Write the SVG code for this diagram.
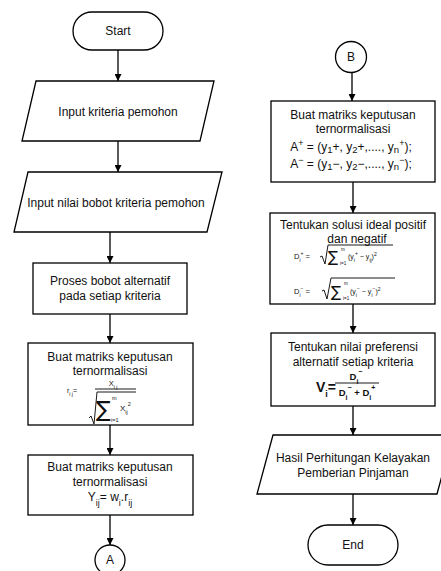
<svg xmlns="http://www.w3.org/2000/svg" width="441" height="571" viewBox="0 0 441 571">
<style>
.s{fill:#fff;stroke:#000;stroke-width:1.3}
.t{font-family:"Liberation Sans",Arial,sans-serif;font-size:12px;fill:#111;text-anchor:middle}
.f{font-family:"Liberation Sans",Arial,sans-serif;fill:#111}
.g{font-family:"DejaVu Sans",sans-serif;fill:#111}
.c{stroke:#000;stroke-width:1.3;fill:none}
.m{fill:none;stroke:#000;stroke-width:0.9}
</style>
<defs>
<marker id="ah" viewBox="0 0 8 8" refX="8" refY="4" markerWidth="7" markerHeight="7" markerUnits="userSpaceOnUse" orient="auto">
<path d="M0,0 L8,4 L0,8 Z" fill="#000"/>
</marker>
</defs>
<rect width="441" height="571" fill="#fff"/>
<g id="connectors">
<line class="c" x1="118" y1="50" x2="118" y2="81" marker-end="url(#ah)"/>
<line class="c" x1="118" y1="141" x2="118" y2="172" marker-end="url(#ah)"/>
<line class="c" x1="110" y1="232" x2="110" y2="263" marker-end="url(#ah)"/>
<line class="c" x1="110" y1="314" x2="110" y2="343" marker-end="url(#ah)"/>
<line class="c" x1="110" y1="425" x2="110" y2="455" marker-end="url(#ah)"/>
<line class="c" x1="110" y1="515" x2="110" y2="545" marker-end="url(#ah)"/>
<line class="c" x1="352" y1="72" x2="352" y2="101" marker-end="url(#ah)"/>
<line class="c" x1="353" y1="182" x2="353" y2="213" marker-end="url(#ah)"/>
<line class="c" x1="353" y1="304" x2="353" y2="333" marker-end="url(#ah)"/>
<line class="c" x1="353" y1="406" x2="353" y2="435" marker-end="url(#ah)"/>
<line class="c" x1="353" y1="494" x2="353" y2="525" marker-end="url(#ah)"/>
</g>
<g id="start">
<rect class="s" x="73" y="12" width="90" height="38" rx="19"/>
<text class="t" x="118" y="35">Start</text>
</g>
<g id="input1">
<polygon class="s" points="36,81 214,81 200,141 22,141"/>
<text class="t" x="118" y="116">Input kriteria pemohon</text>
</g>
<g id="input2">
<polygon class="s" points="28,172 222,172 207,232 14,232"/>
<text class="t" x="116" y="207">Input nilai bobot kriteria pemohon</text>
</g>
<g id="proses">
<rect class="s" x="33" y="263" width="154" height="51"/>
<text class="t" x="110" y="285">Proses bobot alternatif</text>
<text class="t" x="110" y="300">pada setiap kriteria</text>
</g>
<g id="normalisasi1">
<rect class="s" x="28" y="343" width="165" height="82"/>
<text class="t" x="110" y="361">Buat matriks keputusan</text>
<text class="t" x="110" y="375">ternormalisasi</text>
<text class="f" x="67" y="393" font-size="7">r<tspan baseline-shift="sub" font-size="5">i j</tspan>=</text>
<text class="f" x="113" y="386" font-size="7.5" text-anchor="middle">X<tspan baseline-shift="sub" font-size="5">i j</tspan></text>
<line class="m" x1="95" y1="389" x2="136" y2="389"/>
<path class="m" d="M89,418 L91,416 L94,424 L97,392 L136,392"/>
<text class="g" x="96" y="417" font-size="22">∑</text>
<text class="f" x="112" y="400" font-size="5.5">m</text>
<text class="f" x="111" y="422" font-size="5.5">i=1</text>
<text class="f" x="120" y="411" font-size="8">X<tspan baseline-shift="sub" font-size="5.5">ij</tspan><tspan dy="-5" font-size="5.5">2</tspan></text>
</g>
<g id="normalisasi2">
<rect class="s" x="28" y="455" width="165" height="60"/>
<text class="t" x="110" y="471">Buat matriks keputusan</text>
<text class="t" x="110" y="486">ternormalisasi</text>
<text class="t" x="110" y="501">Y<tspan baseline-shift="sub" font-size="9">ij</tspan>= w<tspan baseline-shift="sub" font-size="9">i</tspan>.r<tspan baseline-shift="sub" font-size="9">ij</tspan></text>
</g>
<g id="connA">
<circle class="s" cx="110" cy="560" r="15"/>
<text class="t" x="110" y="564">A</text>
</g>
<g id="connB">
<circle class="s" cx="351" cy="57" r="15.5"/>
<text class="t" x="351" y="61">B</text>
</g>
<g id="ideal">
<rect class="s" x="271" y="101" width="164" height="81"/>
<text class="t" x="353" y="119">Buat matriks keputusan</text>
<text class="t" x="353" y="133">ternormalisasi</text>
<text class="t" x="351" y="151">A<tspan baseline-shift="super" font-size="9">+</tspan> = (y<tspan baseline-shift="-2" font-size="9.5">1</tspan>+, y<tspan baseline-shift="-2" font-size="9.5">2</tspan>+,...., y<tspan baseline-shift="-2" font-size="9.5">n</tspan><tspan baseline-shift="super" font-size="9">+</tspan>);</text>
<text class="t" x="351" y="168">A<tspan baseline-shift="super" font-size="9">−</tspan> = (y<tspan baseline-shift="-2" font-size="9.5">1</tspan>−, y<tspan baseline-shift="-2" font-size="9.5">2</tspan>−,...., y<tspan baseline-shift="-2" font-size="9.5">n</tspan><tspan baseline-shift="super" font-size="9">−</tspan>);</text>
</g>
<g id="solusi">
<rect class="s" x="270" y="213" width="165" height="91"/>
<text class="t" x="353" y="229">Tentukan solusi ideal positif</text>
<text class="t" x="357" y="243">dan negatif</text>
<text class="f" x="294" y="259" font-size="7.5">D<tspan baseline-shift="sub" font-size="5">i</tspan><tspan dy="-4" font-size="5">+</tspan><tspan dy="4"> =</tspan></text>
<path class="m" d="M320,257 L322,256 L325,264 L328,245 L393,245"/>
<text class="g" x="328" y="262" font-size="15">∑</text>
<text class="f" x="341" y="251" font-size="4.5">m</text>
<text class="f" x="340" y="265" font-size="4.5">i=1</text>
<text class="f" x="348" y="259" font-size="7">(y<tspan baseline-shift="sub" font-size="5">i</tspan><tspan dy="-4" font-size="5">+</tspan><tspan dy="4"> − y</tspan><tspan baseline-shift="sub" font-size="5">ij</tspan>)<tspan dy="-3" font-size="5">2</tspan></text>
<text class="f" x="294" y="294" font-size="7.5">D<tspan baseline-shift="sub" font-size="5">i</tspan><tspan dy="-4" font-size="5">−</tspan><tspan dy="4"> =</tspan></text>
<path class="m" d="M322,291 L324,290 L327,299 L331,278 L395,278"/>
<text class="g" x="331" y="297" font-size="15">∑</text>
<text class="f" x="344" y="285" font-size="4.5">m</text>
<text class="f" x="343" y="300" font-size="4.5">i=1</text>
<text class="f" x="350" y="294" font-size="7">(y<tspan baseline-shift="sub" font-size="5">i</tspan><tspan dy="-4" font-size="5">−</tspan><tspan dy="4"> − y</tspan><tspan baseline-shift="sub" font-size="5">i</tspan><tspan dy="-4" font-size="5">−</tspan><tspan dy="4">)</tspan><tspan dy="-3" font-size="5">2</tspan></text>
</g>
<g id="preferensi">
<rect class="s" x="271" y="333" width="164" height="73"/>
<text class="t" x="353" y="351">Tentukan nilai preferensi</text>
<text class="t" x="353" y="366">alternatif setiap kriteria</text>
<text class="f" x="316" y="392" font-size="14" font-weight="bold">V<tspan baseline-shift="sub" font-size="9">i</tspan>=</text>
<text class="f" x="356" y="380" font-size="9.5" font-weight="bold" text-anchor="middle">D<tspan baseline-shift="sub" font-size="7">i</tspan><tspan dy="-6" font-size="7">−</tspan></text>
<line class="m" x1="335" y1="383" x2="379" y2="383" stroke-width="1.1"/>
<text class="f" x="357" y="396" font-size="9.5" font-weight="bold" text-anchor="middle">D<tspan baseline-shift="sub" font-size="7">i</tspan><tspan dy="-6" font-size="7">−</tspan><tspan dy="6"> + D</tspan><tspan baseline-shift="sub" font-size="7">i</tspan><tspan dy="-6" font-size="7">+</tspan></text>
</g>
<g id="hasil">
<polygon class="s" points="273,435 453,435 437,494 257,494"/>
<text class="t" x="353" y="462">Hasil Perhitungan Kelayakan</text>
<text class="t" x="353" y="477">Pemberian Pinjaman</text>
</g>
<g id="end">
<rect class="s" x="308" y="525" width="90" height="40" rx="20"/>
<text class="t" x="353" y="549">End</text>
</g>
</svg>
